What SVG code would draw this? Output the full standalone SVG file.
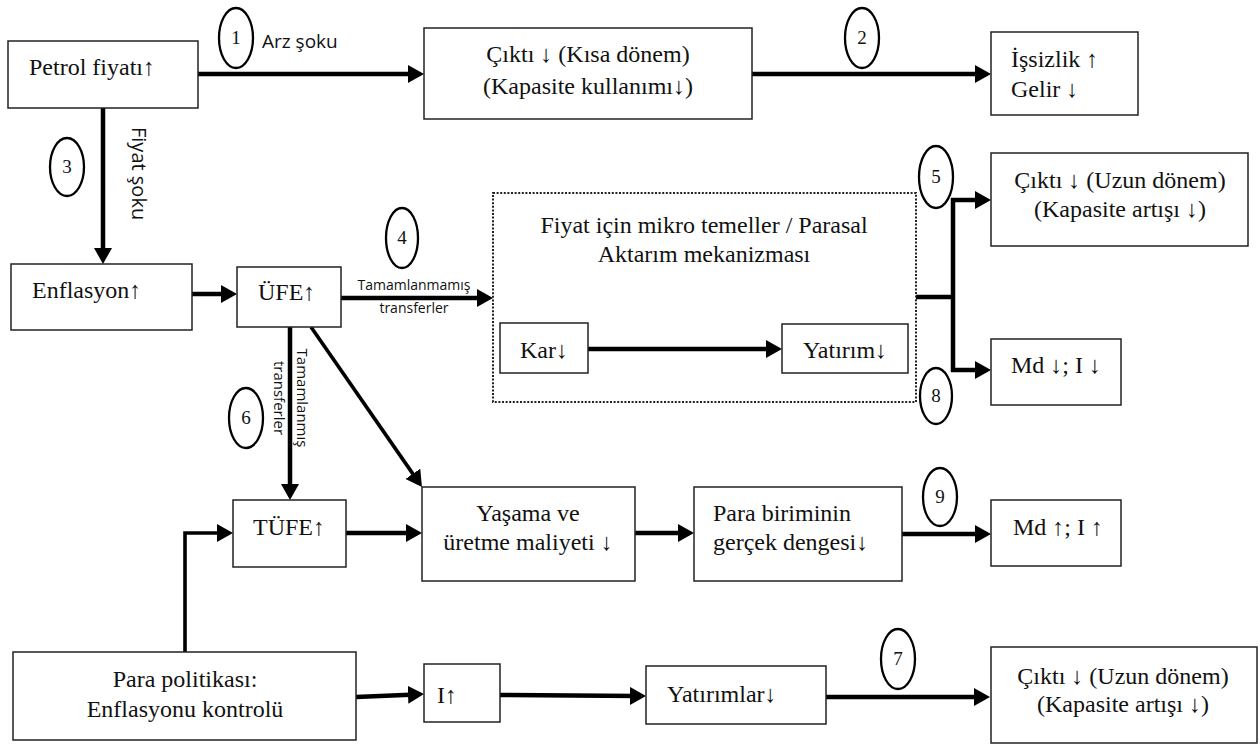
<svg xmlns="http://www.w3.org/2000/svg" width="1260" height="745" viewBox="0 0 1260 745">
<defs>
<style>
.box{fill:#fff;stroke:#222;stroke-width:1.5}
.dot{fill:none;stroke:#222;stroke-width:2;stroke-dasharray:2 1.6}
.t{font-family:"Liberation Serif","DejaVu Sans Mono","Times New Roman",serif;font-size:24px;fill:#111}
.c{text-anchor:middle}
.s{font-family:"Open Sans","Liberation Sans",sans-serif;fill:#111}
.num{font-family:"Liberation Serif",serif;font-size:19px;fill:#111;text-anchor:middle}
.ell{fill:#fff;stroke:#000;stroke-width:2.3}
.ln{fill:none;stroke:#000;stroke-width:4.5}
.ar{fill:none;stroke:#000;stroke-width:4.5;marker-end:url(#ah)}
.thin{stroke-width:3.6}
</style>
<marker id="ah" markerUnits="userSpaceOnUse" markerWidth="16" markerHeight="18" viewBox="0 0 16 18" refX="8" refY="9" orient="auto">
<path d="M0,0 L16,9 L0,18 z" fill="#000"/>
</marker>
</defs>
<rect width="1260" height="745" fill="#fff"/>

<g id="connectors">
<path class="ar" d="M198,74 H416"/>
<path class="ar" d="M752,74 H983"/>
<path class="ar" d="M103,108 V256"/>
<path class="ar" d="M192,294 H229"/>
<path class="ar" d="M341,298 H485"/>
<path class="ar" d="M588,349 H774"/>
<path class="ln" d="M916,297 H953"/>
<path class="ln" d="M953,198 V372"/>
<path class="ar" d="M951,200 H983"/>
<path class="ar" d="M951,370 H983"/>
<path class="ar" d="M290,327 V492"/>
<path class="ar thin" d="M311,327 L417.4,480.4"/>
<path class="ar" d="M346,533 H414"/>
<path class="ar" d="M635,533 H686"/>
<path class="ar" d="M902,534 H983"/>
<path class="ar thin" d="M185,652 V533 H225"/>
<path class="ar" d="M356,697 L416,694.4"/>
<path class="ar" d="M500,695 L638,696"/>
<path class="ar" d="M826,697 H982"/>
<text class="s" x="262" y="48" font-size="19">Arz şoku</text>
<text class="s" font-size="20" transform="translate(132,127) rotate(90)">Fiyat şoku</text>
<text class="s c" x="414" y="290" font-size="14">Tamamlanmamış</text>
<text class="s c" x="414" y="313" font-size="14">transferler</text>
<text class="s c" font-size="15" transform="translate(297,398) rotate(90)">Tamamlanmış</text>
<text class="s c" font-size="15" transform="translate(274,398) rotate(90)">transferler</text>
</g>

<g id="n-petrol"><rect class="box" x="8" y="41" width="190" height="67"/><text class="t" x="29" y="75" font-size="25">Petrol fiyatı↑</text></g>
<g id="n-cikti-kisa"><rect class="box" x="424" y="28" width="328" height="91"/><text class="t c" x="588" y="62">Çıktı ↓ (Kısa dönem)</text><text class="t c" x="588" y="94">(Kapasite kullanımı↓)</text></g>
<g id="n-issizlik"><rect class="box" x="991" y="32" width="147" height="83"/><text class="t" x="1011" y="67">İşsizlik ↑</text><text class="t" x="1011" y="97">Gelir ↓</text></g>
<g id="n-enflasyon"><rect class="box" x="11" y="264" width="181" height="66"/><text class="t" x="32" y="298">Enflasyon↑</text></g>
<g id="n-ufe"><rect class="box" x="237" y="267" width="104" height="60"/><text class="t" x="258" y="300">ÜFE↑</text></g>
<g id="n-mekanizma"><rect class="dot" x="493" y="193" width="423" height="209"/><text class="t c" x="704" y="233">Fiyat için mikro temeller / Parasal</text><text class="t c" x="704" y="262">Aktarım mekanizması</text></g>
<g id="n-kar"><rect class="box" x="500" y="323" width="88" height="50"/><text class="t c" x="544" y="358">Kar↓</text></g>
<g id="n-yatirim"><rect class="box" x="782" y="324" width="126" height="49"/><text class="t c" x="845" y="358">Yatırım↓</text></g>
<g id="n-cikti-uzun1"><rect class="box" x="991" y="153" width="257" height="93"/><text class="t c" x="1120" y="188">Çıktı ↓ (Uzun dönem)</text><text class="t c" x="1120" y="217">(Kapasite artışı ↓)</text></g>
<g id="n-md-down"><rect class="box" x="991" y="339" width="130" height="66"/><text class="t" x="1011" y="373">Md ↓; I ↓</text></g>
<g id="n-tufe"><rect class="box" x="233" y="500" width="113" height="67"/><text class="t c" x="289" y="535">TÜFE↑</text></g>
<g id="n-yasama"><rect class="box" x="422" y="487" width="213" height="94"/><text class="t c" x="528" y="521">Yaşama ve</text><text class="t c" x="528" y="550">üretme maliyeti ↓</text></g>
<g id="n-para-birimi"><rect class="box" x="694" y="487" width="208" height="94"/><text class="t" x="713" y="521">Para biriminin</text><text class="t" x="713" y="550">gerçek dengesi↓</text></g>
<g id="n-md-up"><rect class="box" x="991" y="500" width="130" height="66"/><text class="t" x="1013" y="535">Md ↑; I ↑</text></g>
<g id="n-para-politikasi"><rect class="box" x="13" y="652" width="343" height="88"/><text class="t c" x="185" y="687">Para politikası:</text><text class="t c" x="185" y="717">Enflasyonu kontrolü</text></g>
<g id="n-i-up"><rect class="box" x="424" y="664" width="76" height="58"/><text class="t" x="437" y="703">I↑</text></g>
<g id="n-yatirimlar"><rect class="box" x="646" y="666" width="180" height="58"/><text class="t" x="667" y="702">Yatırımlar↓</text></g>
<g id="n-cikti-uzun2"><rect class="box" x="991" y="647" width="266" height="96"/><text class="t c" x="1123" y="684">Çıktı ↓ (Uzun dönem)</text><text class="t c" x="1123" y="712">(Kapasite artışı ↓)</text></g>

<g id="markers-numbered">
<g id="c1"><ellipse class="ell" cx="236" cy="38" rx="17" ry="30"/><text class="num" x="236" y="44">1</text></g>
<g id="c2"><ellipse class="ell" cx="862" cy="38" rx="17" ry="30"/><text class="num" x="862" y="44">2</text></g>
<g id="c3"><ellipse class="ell" cx="67" cy="167" rx="17" ry="29"/><text class="num" x="67" y="173">3</text></g>
<g id="c4"><ellipse class="ell" cx="402" cy="238" rx="16" ry="30"/><text class="num" x="402" y="244">4</text></g>
<g id="c5"><ellipse class="ell" cx="936" cy="177" rx="17" ry="31"/><text class="num" x="936" y="183">5</text></g>
<g id="c6"><ellipse class="ell" cx="246" cy="418" rx="17" ry="30"/><text class="num" x="246" y="424">6</text></g>
<g id="c7"><ellipse class="ell" cx="898" cy="659" rx="17" ry="30"/><text class="num" x="898" y="665">7</text></g>
<g id="c8"><ellipse class="ell" cx="936" cy="396" rx="16" ry="28"/><text class="num" x="936" y="402">8</text></g>
<g id="c9"><ellipse class="ell" cx="940" cy="497" rx="17" ry="29"/><text class="num" x="940" y="503">9</text></g>
</g>
</svg>
